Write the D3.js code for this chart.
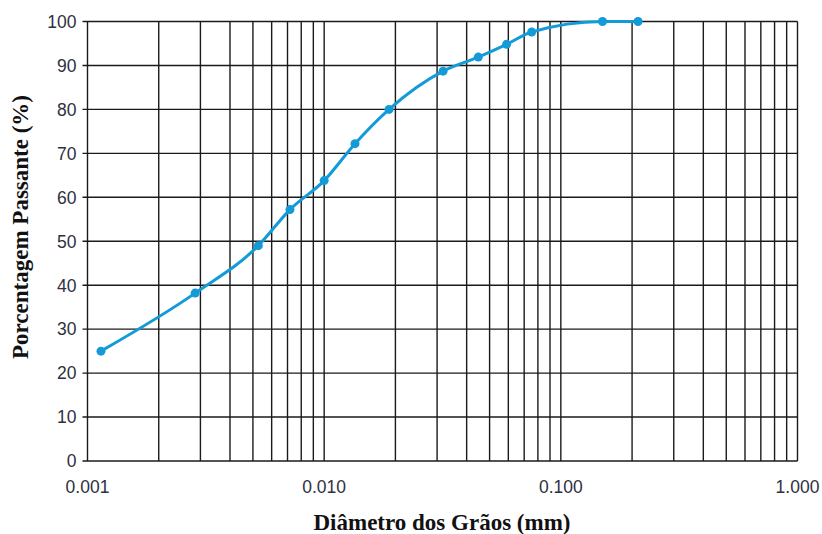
<!DOCTYPE html>
<html>
<head>
<meta charset="utf-8">
<script src="https://cdn.jsdelivr.net/npm/d3@7"></script>
<style>
  body { margin: 0; background: #fff; }
  svg { display: block; }
</style>
</head>
<body>
<div id="chart"></div>
<script>
// granulometria - diametro (mm) x % passante
const diametros = [0.00114, 0.00285, 0.00527, 0.00717, 0.0100, 0.0135, 0.0188, 0.0318, 0.0448, 0.059, 0.0753, 0.150, 0.212]
const passante = [25, 38.2, 49, 57.2, 63.8, 72.2, 80, 88.7, 91.9, 94.8, 97.6, 100, 100]

const yTicks = [0, 10, 20, 30, 40, 50, 60, 70, 80, 90, 100]
const xLabels = [0.001, 0.01, 0.1, 1]

const lineColor = '#139bd8'
const gridColor = '#1a1a1a'

const W = 822, H = 534
const m = {left: 87.5, right: 24.5, top: 21.5, bottom: 73}

const svg = d3.select('#chart').append('svg')
  .attr('width', W).attr('height', H)

const x = d3.scaleLog().domain([0.001, 1]).range([m.left, W - m.right])
const y = d3.scaleLinear().domain([0, 100]).range([H - m.bottom, m.top])

// linhas verticais: 1..9 de cada decada
let xGrid = []
for (let e = -3; e < 0; e++) {
  for (let k = 1; k <= 9; k++) xGrid.push(k * Math.pow(10, e))
}
xGrid.push(1)

const grid = svg.append('g').attr('stroke', gridColor).attr('stroke-width', 1.4)

grid.selectAll('.vx').data(xGrid).enter().append('line')
  .attr('x1', d => x(d)).attr('x2', d => x(d))
  .attr('y1', y(100)).attr('y2', y(0))

grid.selectAll('.hy').data(yTicks).enter().append('line')
  .attr('x1', x(0.001) - 5).attr('x2', x(1))
  .attr('y1', d => y(d)).attr('y2', d => y(d))

// labels eixo y
svg.append('g').selectAll('text').data(yTicks).enter().append('text')
  .attr('x', x(0.001) - 11)
  .attr('y', d => y(d))
  .attr('dy', '0.36em')
  .attr('text-anchor', 'end')
  .attr('font-family', 'Liberation Sans, Arial, sans-serif')
  .attr('font-size', 17.5)
  .attr('fill', '#2e3040')
  .text(d => d)

// labels eixo x
svg.append('g').selectAll('text').data(xLabels).enter().append('text')
  .attr('x', d => x(d))
  .attr('y', y(0) + 32)
  .attr('text-anchor', 'middle')
  .attr('font-family', 'Liberation Sans, Arial, sans-serif')
  .attr('font-size', 17.5)
  .attr('fill', '#2e3040')
  .text(d => d.toFixed(3))

// titulos
svg.append('text')
  .attr('x', 442).attr('y', 530)
  .attr('text-anchor', 'middle')
  .attr('font-family', 'Liberation Serif, Times New Roman, serif')
  .attr('font-weight', 'bold')
  .attr('font-size', 23)
  .attr('fill', '#111')
  .text('Diâmetro dos Grãos (mm)')

svg.append('text')
  .attr('transform', 'translate(28,227) rotate(-90)')
  .attr('text-anchor', 'middle')
  .attr('font-family', 'Liberation Serif, Times New Roman, serif')
  .attr('font-weight', 'bold')
  .attr('font-size', 23)
  .attr('fill', '#111')
  .text('Porcentagem Passante (%)')

// curva
const pts = diametros.map((d, i) => ({d: d, p: passante[i]}))

const line = d3.line()
  .x(d => x(d.d))
  .y(d => y(d.p))
  .curve(d3.curveMonotoneX)

svg.append('path')
  .datum(pts)
  .attr('d', line)
  .attr('fill', 'none')
  .attr('stroke', lineColor)
  .attr('stroke-width', 3)

svg.append('g').selectAll('circle').data(pts).enter().append('circle')
  .attr('cx', d => x(d.d))
  .attr('cy', d => y(d.p))
  .attr('r', 4.5)
  .attr('fill', lineColor)
</script>
</body>
</html>
